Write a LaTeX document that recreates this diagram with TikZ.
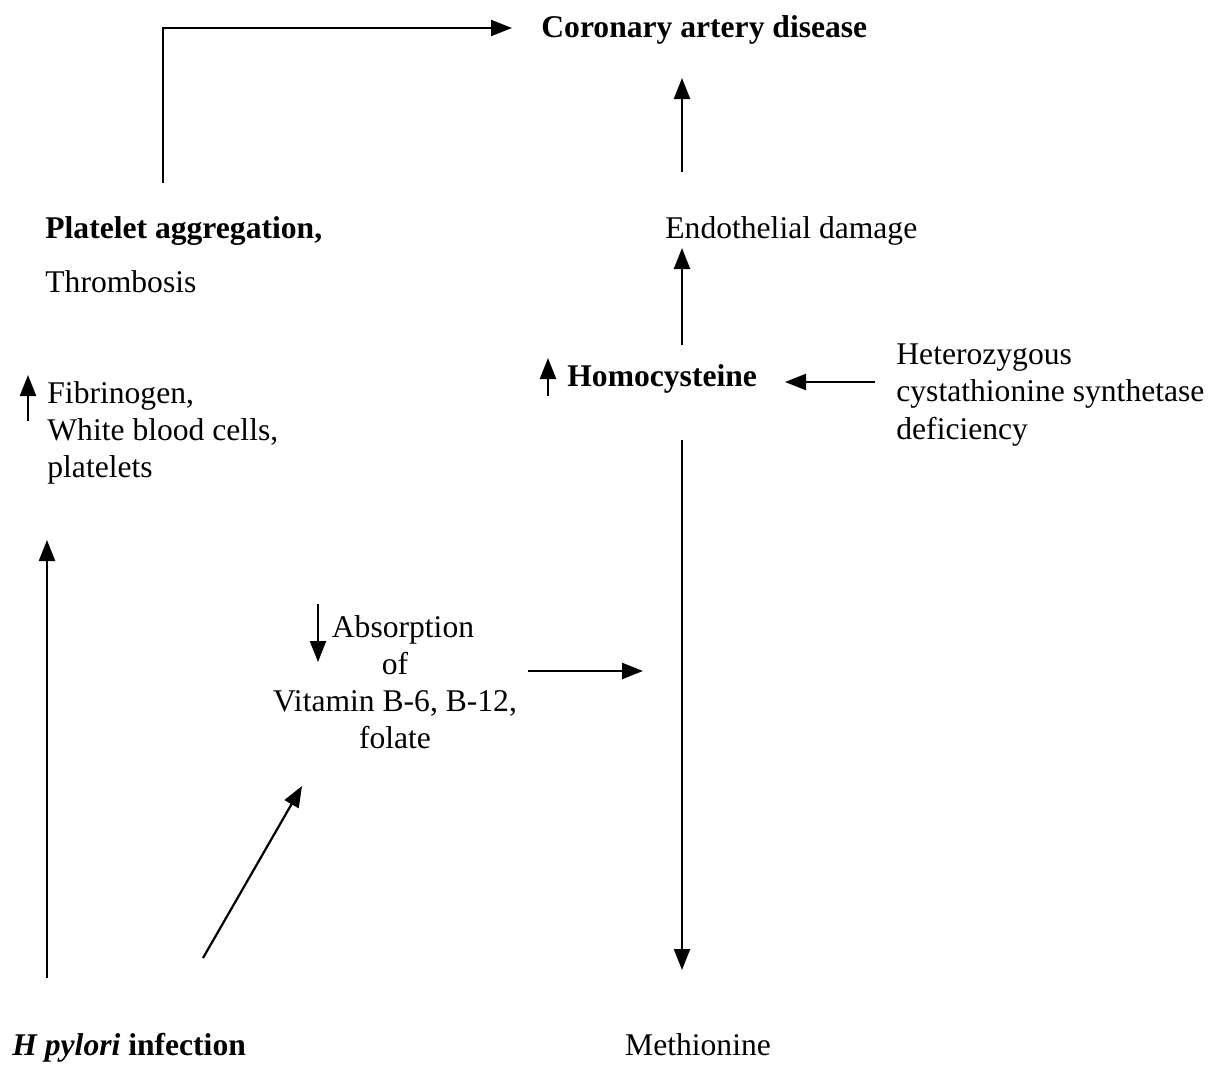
\documentclass[tikz,border=0pt]{standalone}
\usepackage{fontspec}
\setmainfont{Liberation Serif}
\usetikzlibrary{arrows.meta}
\begin{document}
\begin{tikzpicture}[x=0.5pt,y=-0.5pt,
    every node/.style={font=\fontsize{15.8}{18.6}\selectfont, inner sep=0pt,
      text height=13pt, text depth=2.5pt},
    lbl/.style={anchor=west},
    arr/.style={-{Triangle[length=10.5pt,width=8pt]}, line width=1.1pt}]
  \useasboundingbox (0,0) rectangle (1222,1066);
  \draw
    (541,27) node[lbl] (cad){\textbf{Coronary artery disease}}
    (45,228) node[lbl] (plt){\textbf{Platelet aggregation,}}
    (45,282) node[lbl] (thr){Thrombosis}
    (665,228) node[lbl] (endo){Endothelial damage}
    (567,376) node[lbl] (hcy){\textbf{Homocysteine}}
    (896,395) node[lbl, align=left, text height=, text depth=] (het){Heterozygous\\cystathionine synthetase\\deficiency}
    (47,433) node[lbl, align=left, text height=, text depth=] (fib){Fibrinogen,\\White blood cells,\\platelets}
    (395,682) node[align=center, text height=, text depth=] (abs){\hspace*{8pt}Absorption\\of\\Vitamin B-6, B-12,\\folate}
    (12,1045) node[lbl] (hpy){\textbf{\textit{H pylori} infection}}
    (698,1045) node (met){Methionine};
  \coordinate (pltTop) at (163,183);
  \coordinate (cadIn) at (512,28);
  \coordinate (endoOut) at (682,172);
  \coordinate (cadBot) at (682,78);
  \coordinate (hcyOut) at (682,345);
  \coordinate (endoIn) at (682,248);
  \coordinate (hetOut) at (875,382);
  \coordinate (hcyIn) at (785,382);
  \coordinate (hcyBot) at (682,440);
  \coordinate (metIn) at (682,970);
  \coordinate (hpyUp) at (47,978);
  \coordinate (fibIn) at (47,540);
  \coordinate (hpyOut) at (203,958);
  \coordinate (absIn) at (302,786);
  \coordinate (absOut) at (528,671);
  \coordinate (metLine) at (643,671);
  \begin{scope}[arr]
    \draw (pltTop) |- (cadIn);
    \draw (endoOut) to (cadBot);
    \draw (hcyOut) to (endoIn);
    \draw (hetOut) to (hcyIn);
    \draw (hcyBot) to (metIn);
    \draw (hpyUp) to (fibIn);
    \draw (hpyOut) to (absIn);
    \draw (absOut) to (metLine);
    % up / down marks in the labels
    \draw (28,421) to (28,375);
    \draw (548,396) to (548,358);
    \draw (318,604) to (318,662);
  \end{scope}
\end{tikzpicture}
\end{document}
